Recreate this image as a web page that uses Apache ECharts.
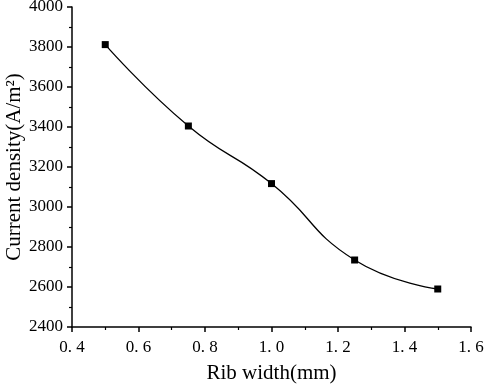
<!DOCTYPE html>
<html>
<head>
<meta charset="utf-8">
<script src="https://cdn.jsdelivr.net/npm/echarts@6/dist/echarts.min.js"></script>
<style>
  html, body { margin: 0; padding: 0; background: #fff; }
  #main { width: 484px; height: 387px; }
</style>
</head>
<body>
<div id="main"></div>
<script>
// rib width (mm) vs current density
var ribWidth = [0.5, 0.75, 1.0, 1.25, 1.5];
var density = [3812, 3405, 3117, 2735, 2590];

(function() {
    var myChart = echarts.init(document.getElementById('main'));
    var font = '"Liberation Serif", "Times New Roman", serif';

    var pts = ribWidth.map(function(x, i) { return [x, density[i]]; });

    var option = {
        animation: false,
        grid: { left: 72, right: 13, top: 7, bottom: 60, containLabel: false, outerBoundsMode: 'none' },
        xAxis: {
            type: 'value',
            min: 0.4,
            max: 1.6,
            interval: 0.2,
            name: 'Rib width(mm)',
            nameLocation: 'middle',
            nameGap: 36,
            nameMoveOverlap: false,
            nameTextStyle: { fontFamily: font, fontSize: 21, color: '#000' },
            axisLine: { lineStyle: { color: '#000', width: 1.5 } },
            axisTick: { inside: false, length: 5, lineStyle: { color: '#000', width: 1.5 } },
            minorTick: { show: true, splitNumber: 2, length: 3, lineStyle: { color: '#000', width: 1.2 } },
            splitLine: { show: false },
            axisLabel: {
                fontFamily: font, fontSize: 17, color: '#000', margin: 12,
                formatter: function(v) { return v.toFixed(1).replace('.', '. '); }
            }
        },
        yAxis: {
            type: 'value',
            min: 2400,
            max: 4000,
            interval: 200,
            name: 'Current density(A/m²)',
            nameLocation: 'middle',
            nameGap: 47,
            nameMoveOverlap: false,
            nameTextStyle: { fontFamily: font, fontSize: 21, color: '#000' },
            axisLine: { show: true, lineStyle: { color: '#000', width: 1.5 } },
            axisTick: { show: true, inside: false, length: 5, lineStyle: { color: '#000', width: 1.5 } },
            minorTick: { show: true, splitNumber: 2, length: 3, lineStyle: { color: '#000', width: 1.2 } },
            splitLine: { show: false },
            axisLabel: {
                fontFamily: font, fontSize: 17, color: '#000', margin: 9,
                formatter: function(v) { return String(v); }
            }
        },
        series: [{
            type: 'line',
            data: pts,
            smooth: 0.5,
            symbol: 'rect',
            symbolSize: 7,
            itemStyle: { color: '#000' },
            lineStyle: { color: '#000', width: 1.3 }
        }]
    };

    myChart.setOption(option);
})();
</script>
</body>
</html>
